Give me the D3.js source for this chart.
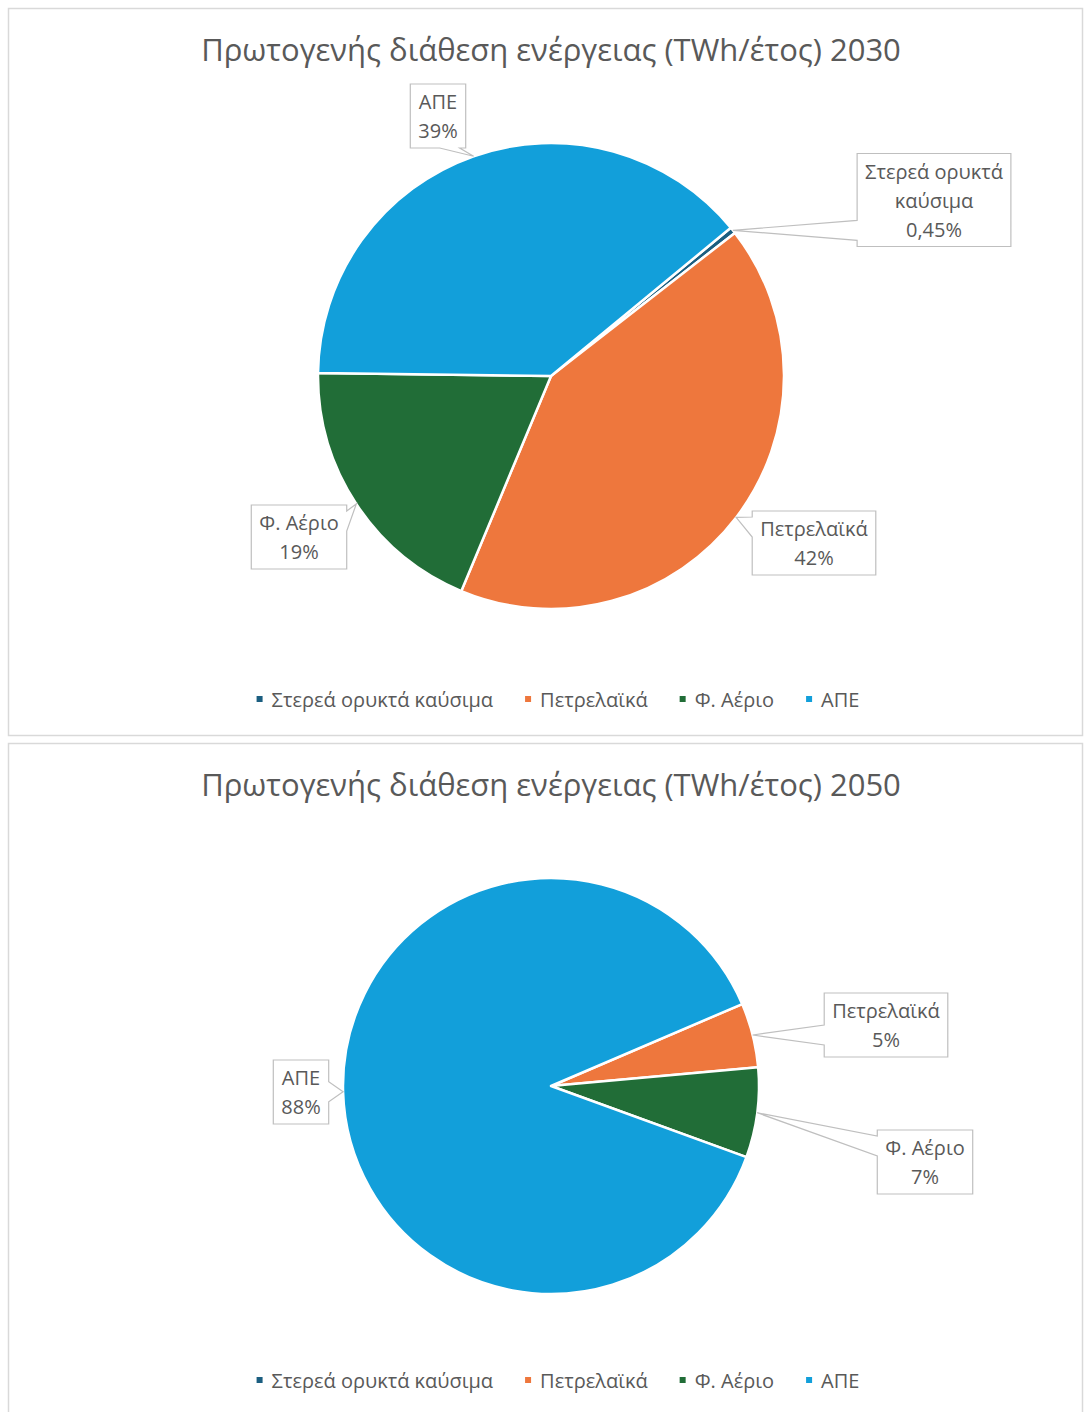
<!DOCTYPE html>
<html>
<head>
<meta charset="utf-8">
<script src="https://cdn.jsdelivr.net/npm/d3@7"></script>
<style>
  body { margin: 0; background: #fff; }
  svg { display: block; font-family: "Open Sans", sans-serif; }
</style>
</head>
<body>
<svg id="chart" width="1084" height="1412"></svg>
<script>
// data
const categories = ["Στερεά ορυκτά καύσιμα", "Πετρελαϊκά", "Φ. Αέριο", "ΑΠΕ"];
const labelLines = [["Στερεά ορυκτά", "καύσιμα"], ["Πετρελαϊκά"], ["Φ. Αέριο"], ["ΑΠΕ"]];
const colors = ["#1b5e80", "#ee773d", "#216d37", "#129fda"];
const values2030 = [0.45, 42, 19, 39];
const values2050 = [0, 5, 7, 88];

// label box offsets from pie centre (layout only)
const labelPos2030 = [[383, -176], [263, 167], [-252, 161], [-113, -260]];
const labelPos2050 = [null, [335, -61], [374, 76], [-250, 6]];

const textColor = "#595959";
const svg = d3.select("#chart");

function fmtPct(p) {
    if (p < 1) return d3.format(".2f")(p).replace(".", ",") + "%";
    return Math.round(p) + "%";
}

function drawPanel(opts) {
    const g = svg.append("g");

    // panel border
    g.append("rect")
        .attr("x", 8.5).attr("y", opts.top + 0.5)
        .attr("width", 1074).attr("height", opts.height)
        .attr("fill", "#fff")
        .attr("stroke", "#d9d9d9").attr("stroke-width", 1.5);

    g.append("text")
        .attr("x", 551).attr("y", opts.top + 41)
        .attr("text-anchor", "middle")
        .attr("dominant-baseline", "central")
        .attr("fill", textColor)
        .style("font-size", "31px")
        .text(opts.title);

    const cx = 551, cy = opts.cy, r = opts.r;
    const total = d3.sum(opts.values);
    const pie = d3.pie().sort(null)
        .startAngle(opts.start * Math.PI / 180)
        .endAngle(opts.start * Math.PI / 180 + 2 * Math.PI);
    const arcs = pie(opts.values);
    const arc = d3.arc().innerRadius(0).outerRadius(r);

    const pg = g.append("g").attr("transform", `translate(${cx},${cy})`);
    pg.selectAll("path.slice").data(arcs).join("path")
        .attr("class", "slice")
        .attr("d", arc)
        .attr("fill", (d, i) => colors[i])
        .attr("stroke", "#fff")
        .attr("stroke-width", 2.5)
        .attr("stroke-linejoin", "round");

    // data labels with callouts
    arcs.forEach((d, i) => {
        const pos = opts.labelPos[i];
        if (!pos || d.value === 0) return;
        const mid = (d.startAngle + d.endAngle) / 2;
        const ax = r * Math.sin(mid), ay = -r * Math.cos(mid);
        const lines = labelLines[i].concat([fmtPct(d.value / total * 100)]);

        const lg = pg.append("g");
        const texts = lg.selectAll("text").data(lines).join("text")
            .attr("text-anchor", "middle")
            .attr("dominant-baseline", "central")
            .attr("fill", textColor)
            .style("font-size", "20px")
            .text(t => t);
        let w = 0;
        texts.each(function () { w = Math.max(w, this.getComputedTextLength()); });
        const bw = w + 16, bh = lines.length * 29 + 6;
        const x0 = pos[0] - bw / 2, y0 = pos[1] - bh / 2, x1 = x0 + bw, y1 = y0 + bh;
        texts.attr("x", pos[0]).attr("y", (t, k) => y0 + 17.5 + 29 * k);

        // which side faces the anchor
        const out = {
            left: x0 - ax, right: ax - x1, top: y0 - ay, bottom: ay - y1
        };
        const side = Object.keys(out).reduce((a, b) => out[a] >= out[b] ? a : b);
        const clamp = (v, lo, hi) => Math.max(lo, Math.min(hi, v));
        let pts;
        if (side === "left") {
            const c = clamp(ay, y0 + 16, y1 - 16);
            pts = [[x0, y0], [x1, y0], [x1, y1], [x0, y1], [x0, c + 10], [ax, ay], [x0, c - 10]];
        } else if (side === "right") {
            const c = clamp(ay, y0 + 16, y1 - 16);
            pts = [[x0, y0], [x1, y0], [x1, c - 10], [ax, ay], [x1, c + 10], [x1, y1], [x0, y1]];
        } else if (side === "top") {
            const c = clamp(ax, x0 + 16, x1 - 16);
            pts = [[x0, y0], [c - 10, y0], [ax, ay], [c + 10, y0], [x1, y0], [x1, y1], [x0, y1]];
        } else {
            const c = clamp(ax, x0 + 16, x1 - 16);
            pts = [[x0, y0], [x1, y0], [x1, y1], [c + 10, y1], [ax, ay], [c - 10, y1], [x0, y1]];
        }
        lg.insert("path", "text")
            .attr("d", d3.line()(pts) + "Z")
            .attr("fill", "#fff")
            .attr("stroke", "#bfbfbf")
            .attr("stroke-width", 1.2);
    });

    // legend
    const leg = g.append("g").attr("transform", `translate(0,${opts.legendY})`);
    const items = leg.selectAll("g").data(categories).join("g");
    items.append("rect")
        .attr("width", 6).attr("height", 6).attr("y", -3)
        .attr("fill", (d, i) => colors[i]);
    items.append("text")
        .attr("x", 15).attr("dominant-baseline", "central")
        .attr("fill", textColor)
        .style("font-size", "20px")
        .text(d => d);
    const widths = [];
    items.select("text").each(function () { widths.push(this.getComputedTextLength()); });
    const gap = 32;
    const totalW = d3.sum(widths) + widths.length * 15 + gap * (widths.length - 1);
    let x = 558 - totalW / 2;
    items.attr("transform", (d, i) => {
        const t = `translate(${x},0)`;
        x += 15 + widths[i] + gap;
        return t;
    });
}

drawPanel({
    top: 8, height: 727, cy: 376, r: 233, start: 50.5,
    title: "Πρωτογενής διάθεση ενέργειας (TWh/έτος) 2030",
    values: values2030, labelPos: labelPos2030, legendY: 699
});
drawPanel({
    top: 743, height: 700, cy: 1086, r: 208, start: 66.8,
    title: "Πρωτογενής διάθεση ενέργειας (TWh/έτος) 2050",
    values: values2050, labelPos: labelPos2050, legendY: 1380
});
</script>
</body>
</html>
